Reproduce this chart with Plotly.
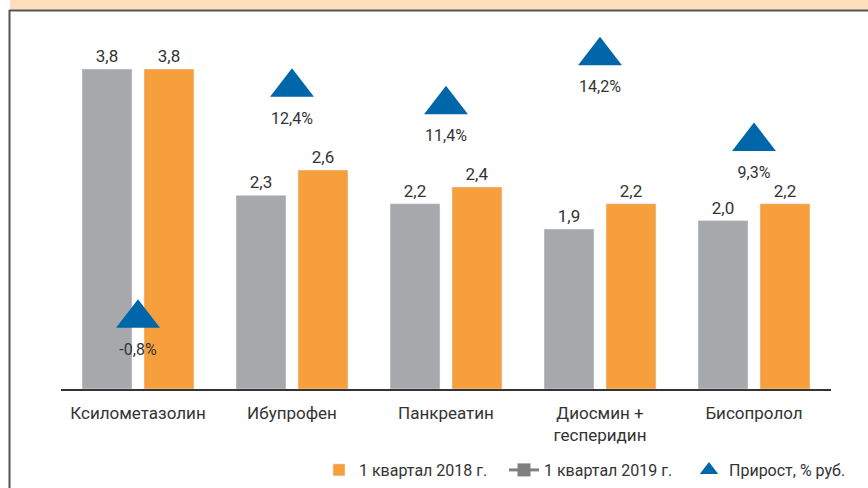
import plotly.graph_objects as go

categories = ["Ксилометазолин", "Ибупрофен", "Панкреатин", "Диосмин +<br>гесперидин", "Бисопролол"]
q1_2019 = [3.8, 2.3, 2.2, 1.9, 2.0]
q1_2018 = [3.8, 2.6, 2.4, 2.2, 2.2]
growth_pct = [-0.8, 12.4, 11.4, 14.2, 9.3]
growth_labels = ["-0,8%", "12,4%", "11,4%", "14,2%", "9,3%"]

GRAY = "#A7A8AB"
ORANGE = "#F79E3D"
BLUE = "#0066AA"
TXT = "#333333"
FONT = "Roboto"

W, H = 868, 488
L, R, T, B = 61, 37, 30, 99
pw, ph = W - L - R, H - T - B


def px(x):
    return (x - L) / pw


def py(y):
    return (H - B - y) / ph


fig = go.Figure()

fig.add_trace(go.Bar(
    x=categories, y=q1_2019, name="1 квартал 2019 г.", marker_color=GRAY,
    texttemplate="%{y:.1f}", textposition="outside",
    textfont=dict(size=17, color=TXT, family=FONT), cliponaxis=False,
    showlegend=False,
))
fig.add_trace(go.Bar(
    x=categories, y=q1_2018, name="1 квартал 2018 г.", marker_color=ORANGE,
    texttemplate="%{y:.1f}", textposition="outside",
    textfont=dict(size=17, color=TXT, family=FONT), cliponaxis=False,
    legendrank=1,
))
# legend entry for 2019 series (line + square, as in the original legend)
fig.add_trace(go.Scatter(
    x=[categories[0]], y=[None], name="1 квартал 2019 г.", mode="lines+markers",
    line=dict(color="#808080", width=3), marker=dict(symbol="square", size=13, color="#808080"),
    legendrank=2,
))
fig.add_trace(go.Scatter(
    x=categories, y=growth_pct, yaxis="y2", name="Прирост, % руб.",
    mode="markers+text", text=growth_labels, textposition="bottom center",
    textfont=dict(size=16, color=TXT, family=FONT),
    marker=dict(symbol="triangle-up", size=38, color=BLUE), cliponaxis=False,
    legendrank=3,
))

shapes = [
    dict(type="rect", xref="paper", yref="paper", x0=px(10), x1=px(W + 5), y0=py(10.5), y1=py(-5),
         fillcolor="#FDDFBE", line=dict(width=0), layer="below"),
    dict(type="line", xref="paper", yref="paper", x0=px(9), x1=px(W + 5), y0=py(10.5), y1=py(10.5),
         line=dict(color="#5A5352", width=2)),
    dict(type="line", xref="paper", yref="paper", x0=px(9.5), x1=px(9.5), y0=py(10), y1=py(H + 5),
         line=dict(color="#5A5352", width=2)),
]

fig.update_layout(
    width=W, height=H,
    margin=dict(l=L, r=R, t=T, b=B, autoexpand=False),
    paper_bgcolor="white", plot_bgcolor="white",
    separators=", ",
    barmode="group", bargap=0.195, bargroupgap=0.194,
    font=dict(family=FONT, color=TXT),
    xaxis=dict(showline=True, linecolor="#333333", linewidth=1.5, ticks="",
               ticklabelstandoff=8,
               tickfont=dict(size=17, color=TXT, family=FONT), showgrid=False),
    yaxis=dict(range=[0, ph / 84.2], visible=False, showgrid=False),
    yaxis2=dict(range=[-4.84, 15.67], overlaying="y", visible=False, showgrid=False),
    legend=dict(orientation="h", x=px(319), y=py(453), xanchor="left", yanchor="top",
                entrywidth=140,
                font=dict(size=16, color=TXT, family=FONT), traceorder="normal"),
    shapes=shapes,
    showlegend=True,
)

fig.write_html("out.html", config={"displayModeBar": False},
               post_script="document.body.style.margin='0';document.body.style.overflow='hidden';")
